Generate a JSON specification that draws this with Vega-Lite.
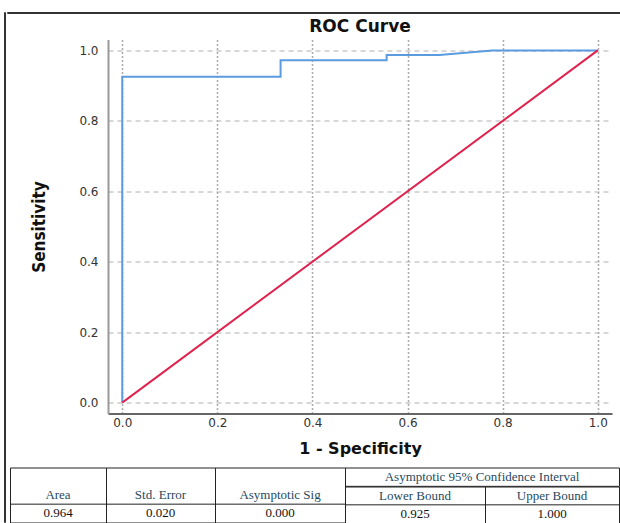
{
  "$schema": "https://vega.github.io/schema/vega-lite/v6.json",
  "autosize": {"type": "pad"},
  "padding": {"left": 3, "top": 11, "right": 0, "bottom": 0},
  "background": "white",
  "config": {"view": {"stroke": null}},
  "datasets": {
    "roc": [
      {"fpr": 0, "tpr": 0, "o": 1},
      {"fpr": 0, "tpr": 0.925, "o": 2},
      {"fpr": 0.333, "tpr": 0.925, "o": 3},
      {"fpr": 0.333, "tpr": 0.972, "o": 4},
      {"fpr": 0.556, "tpr": 0.972, "o": 5},
      {"fpr": 0.556, "tpr": 0.987, "o": 6},
      {"fpr": 0.667, "tpr": 0.987, "o": 7},
      {"fpr": 0.778, "tpr": 1, "o": 8},
      {"fpr": 1, "tpr": 1, "o": 9}
    ],
    "diag": [
      {"fpr": 0, "tpr": 0, "o": 1},
      {"fpr": 1, "tpr": 1, "o": 2}
    ],
    "none": [],
    "tbl": [
      {"col": "Area", "row": "h", "label": "Area"},
      {"col": "Area", "row": "v", "label": "0.964"},
      {"col": "Std", "row": "h", "label": "Std. Error"},
      {"col": "Std", "row": "v", "label": "0.020"},
      {"col": "Sig", "row": "h", "label": "Asymptotic Sig"},
      {"col": "Sig", "row": "v", "label": "0.000"},
      {"col": "CI", "row": "g", "label": "Asymptotic 95% Confidence Interval"},
      {"col": "Lower", "row": "h", "label": "Lower Bound"},
      {"col": "Lower", "row": "v", "label": "0.925"},
      {"col": "Upper", "row": "h", "label": "Upper Bound"},
      {"col": "Upper", "row": "v", "label": "1.000"}
    ]
  },
  "spacing": 0,
  "hconcat": [
    {
      "width": 1, "height": 510,
      "view": {"stroke": "#333", "strokeWidth": 1},
      "data": {"name": "none"},
      "mark": {"type": "point"},
      "encoding": {}
    },
    {
      "spacing": 3.5,
      "vconcat": [
        {
          "width": 613, "height": 1,
          "view": {"stroke": "#333", "strokeWidth": 1},
          "data": {"name": "none"},
          "mark": {"type": "point"},
          "encoding": {}
        },
        {
          "spacing": 0,
          "hconcat": [
            {
              "width": 2, "height": 1,
              "data": {"name": "none"},
              "mark": {"type": "point"},
              "encoding": {}
            },
            {
              "spacing": 10,
              "vconcat": [
                {
                  "spacing": 0,
                  "hconcat": [
                    {
                      "width": 20, "height": 1,
                      "data": {"name": "none"},
                      "mark": {"type": "point"},
                      "encoding": {}
                    },
                    {
                      "width": 504, "height": 374,
                      "title": {"text": "ROC Curve", "font": "DejaVu Sans", "fontSize": 17, "fontWeight": "bold", "color": "#111111", "baseline": "bottom", "offset": -13, "anchor": "middle"},
                      "encoding": {
                        "x": {"field": "fpr", "type": "quantitative",
                          "scale": {"domain": [-0.03, 1.03], "nice": false, "zero": false},
                          "axis": {"values": [0, 0.2, 0.4, 0.6, 0.8, 1], "format": ".1f", "grid": true, "gridDash": [2, 2], "gridColor": "#aaaaaa", "gridWidth": 1.5, "ticks": false, "domainColor": "#666666", "domainWidth": 2, "labelFont": "DejaVu Sans", "labelFontSize": 12, "labelColor": "#333333", "labelPadding": 4, "labelFlush": false, "title": "1 - Specificity", "titleFont": "DejaVu Sans", "titleFontSize": 16, "titleFontWeight": "bold", "titleColor": "#111111", "titlePadding": 12}},
                        "y": {"field": "tpr", "type": "quantitative",
                          "scale": {"domain": [-0.031, 1.031], "nice": false, "zero": false},
                          "axis": {"values": [0, 0.2, 0.4, 0.6, 0.8, 1], "format": ".1f", "grid": true, "gridDash": [5, 4], "gridColor": "#b0b0b0", "gridWidth": 1, "ticks": false, "domainColor": "#999999", "domainWidth": 2, "labelFont": "DejaVu Sans", "labelFontSize": 12, "labelColor": "#333333", "labelPadding": 10, "labelFlush": false, "title": "Sensitivity", "titleFont": "Liberation Sans Narrow, DejaVu Sans Condensed, sans-serif", "titleFontSize": 17, "titleFontWeight": "bold", "titleColor": "#111111", "titlePadding": 30}},
                        "order": {"field": "o", "type": "quantitative"}
                      },
                      "layer": [
                        {"data": {"name": "roc"}, "mark": {"type": "line", "color": "#5b9be0", "strokeWidth": 2, "interpolate": "linear"}},
                        {"data": {"name": "diag"}, "mark": {"type": "line", "color": "#e0224e", "strokeWidth": 2}}
                      ]
                    }
                  ]
                },
                {
                  "bounds": "flush",
                  "spacing": 0,
                  "hconcat": [
                    {
                      "width": 96, "height": 55,
                      "view": {"stroke": "#222", "strokeWidth": 1},
                      "data": {"name": "tbl"},
                      "transform": [{"filter": "datum.col === 'Area'"}],
                      "layer": [
                        {"mark": {"type": "text", "font": "Liberation Serif", "fontSize": 13},
                          "encoding": {
                            "y": {"field": "row", "type": "ordinal", "scale": {"type": "band", "domain": ["g", "h", "v"], "paddingInner": 0, "paddingOuter": 0}, "axis": null},
                            "text": {"field": "label"},
                            "color": {"field": "row", "type": "nominal", "scale": {"domain": ["g", "h", "v"], "range": ["#264a60", "#264a60", "#111111"]}, "legend": null}}},
                        {"transform": [{"filter": "datum.row === 'v'"}],
                          "mark": {"type": "rule", "color": "#222", "strokeWidth": 1},
                          "encoding": {"y": {"field": "row", "type": "ordinal", "bandPosition": 0, "scale": {"type": "band", "domain": ["g", "h", "v"], "paddingInner": 0, "paddingOuter": 0}, "axis": null}}}
                      ]
                    },
                    {
                      "width": 109, "height": 55,
                      "view": {"stroke": "#222", "strokeWidth": 1},
                      "data": {"name": "tbl"},
                      "transform": [{"filter": "datum.col === 'Std'"}],
                      "layer": [
                        {"mark": {"type": "text", "font": "Liberation Serif", "fontSize": 13},
                          "encoding": {
                            "y": {"field": "row", "type": "ordinal", "scale": {"type": "band", "domain": ["g", "h", "v"], "paddingInner": 0, "paddingOuter": 0}, "axis": null},
                            "text": {"field": "label"},
                            "color": {"field": "row", "type": "nominal", "scale": {"domain": ["g", "h", "v"], "range": ["#264a60", "#264a60", "#111111"]}, "legend": null}}},
                        {"transform": [{"filter": "datum.row === 'v'"}],
                          "mark": {"type": "rule", "color": "#222", "strokeWidth": 1},
                          "encoding": {"y": {"field": "row", "type": "ordinal", "bandPosition": 0, "scale": {"type": "band", "domain": ["g", "h", "v"], "paddingInner": 0, "paddingOuter": 0}, "axis": null}}}
                      ]
                    },
                    {
                      "width": 130, "height": 55,
                      "view": {"stroke": "#222", "strokeWidth": 1},
                      "data": {"name": "tbl"},
                      "transform": [{"filter": "datum.col === 'Sig'"}],
                      "layer": [
                        {"mark": {"type": "text", "font": "Liberation Serif", "fontSize": 13},
                          "encoding": {
                            "y": {"field": "row", "type": "ordinal", "scale": {"type": "band", "domain": ["g", "h", "v"], "paddingInner": 0, "paddingOuter": 0}, "axis": null},
                            "text": {"field": "label"},
                            "color": {"field": "row", "type": "nominal", "scale": {"domain": ["g", "h", "v"], "range": ["#264a60", "#264a60", "#111111"]}, "legend": null}}},
                        {"transform": [{"filter": "datum.row === 'v'"}],
                          "mark": {"type": "rule", "color": "#222", "strokeWidth": 1},
                          "encoding": {"y": {"field": "row", "type": "ordinal", "bandPosition": 0, "scale": {"type": "band", "domain": ["g", "h", "v"], "paddingInner": 0, "paddingOuter": 0}, "axis": null}}}
                      ]
                    },
                    {
                      "bounds": "flush",
                      "spacing": 0,
                      "vconcat": [
                        {
                          "width": 274, "height": 18.33,
                          "view": {"stroke": "#222", "strokeWidth": 1},
                          "data": {"name": "tbl"},
                          "transform": [{"filter": "datum.col === 'CI'"}],
                          "mark": {"type": "text", "font": "Liberation Serif", "fontSize": 13, "color": "#264a60"},
                          "encoding": {"text": {"field": "label"}}
                        },
                        {
                          "bounds": "flush",
                          "spacing": 0,
                          "hconcat": [
                            {
                              "width": 140, "height": 36.67,
                              "view": {"stroke": "#222", "strokeWidth": 1},
                              "data": {"name": "tbl"},
                              "transform": [{"filter": "datum.col === 'Lower'"}],
                              "layer": [
                                {"mark": {"type": "text", "font": "Liberation Serif", "fontSize": 13},
                                  "encoding": {
                                    "y": {"field": "row", "type": "ordinal", "scale": {"type": "band", "domain": ["h", "v"], "paddingInner": 0, "paddingOuter": 0}, "axis": null},
                                    "text": {"field": "label"},
                                    "color": {"field": "row", "type": "nominal", "scale": {"domain": ["g", "h", "v"], "range": ["#264a60", "#264a60", "#111111"]}, "legend": null}}},
                                {"transform": [{"filter": "datum.row === 'v'"}],
                                  "mark": {"type": "rule", "color": "#222", "strokeWidth": 1},
                                  "encoding": {"y": {"field": "row", "type": "ordinal", "bandPosition": 0, "scale": {"type": "band", "domain": ["h", "v"], "paddingInner": 0, "paddingOuter": 0}, "axis": null}}}
                              ]
                            },
                            {
                              "width": 134, "height": 36.67,
                              "view": {"stroke": "#222", "strokeWidth": 1},
                              "data": {"name": "tbl"},
                              "transform": [{"filter": "datum.col === 'Upper'"}],
                              "layer": [
                                {"mark": {"type": "text", "font": "Liberation Serif", "fontSize": 13},
                                  "encoding": {
                                    "y": {"field": "row", "type": "ordinal", "scale": {"type": "band", "domain": ["h", "v"], "paddingInner": 0, "paddingOuter": 0}, "axis": null},
                                    "text": {"field": "label"},
                                    "color": {"field": "row", "type": "nominal", "scale": {"domain": ["g", "h", "v"], "range": ["#264a60", "#264a60", "#111111"]}, "legend": null}}},
                                {"transform": [{"filter": "datum.row === 'v'"}],
                                  "mark": {"type": "rule", "color": "#222", "strokeWidth": 1},
                                  "encoding": {"y": {"field": "row", "type": "ordinal", "bandPosition": 0, "scale": {"type": "band", "domain": ["h", "v"], "paddingInner": 0, "paddingOuter": 0}, "axis": null}}}
                              ]
                            }
                          ]
                        }
                      ]
                    }
                  ]
                }
              ]
            }
          ]
        }
      ]
    }
  ]
}
